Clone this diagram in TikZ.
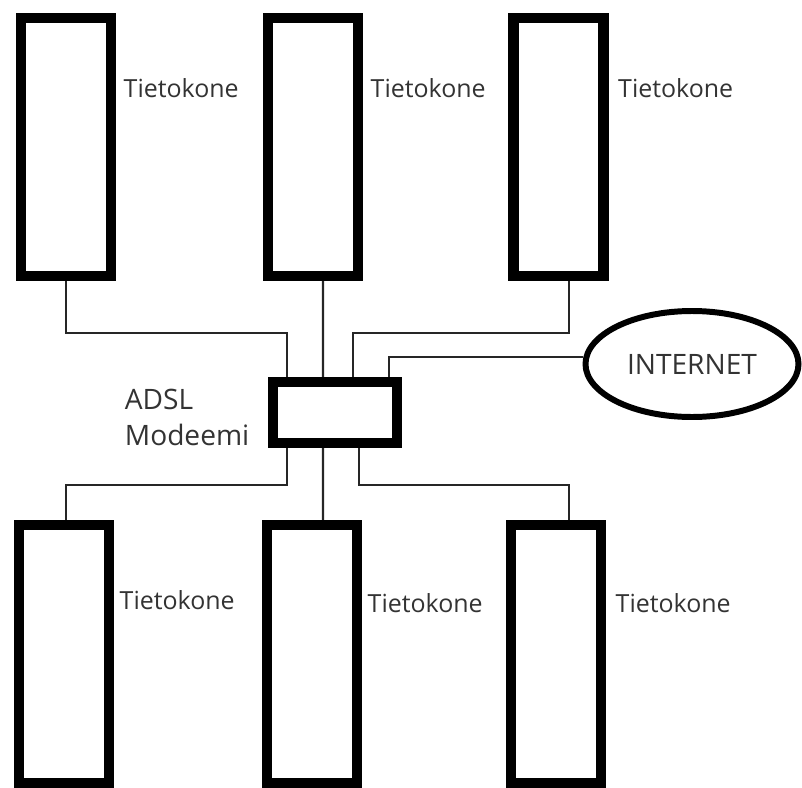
\documentclass[tikz,border=0pt]{standalone}
\usepackage{fontspec}
\setmainfont{Open Sans}
\usetikzlibrary{positioning,shapes.geometric}
\tikzset{
  pc/.style={draw=black, fill=white, line width=2.85pt, minimum width=0.90cm, minimum height=2.58cm, inner sep=0pt},
  mdmbox/.style={draw=black, fill=white, line width=2.85pt, minimum width=1.24cm, minimum height=0.61cm, inner sep=0pt},
  cloud/.style={draw=black, ellipse, line width=1.7pt, minimum width=2.13cm, minimum height=1.06cm, inner sep=0pt, text=black!80, font=\fontsize{8}{10}\selectfont},
  lbl/.style={text=black!80, inner sep=0pt, font=\fontsize{7.1}{8.5}\selectfont},
  tag/.style={text=black!80, inner sep=0pt, align=left, font=\fontsize{8}{10.2}\selectfont},
  cable/.style={draw=black!85, line width=0.6pt}
}
\begin{document}
\begin{tikzpicture}
  \useasboundingbox (0,0) rectangle (8.02,7.87);
  % Computers (top row)
  \node[pc] (tl) at (0.66,6.40) {};
  \node[pc] (tm) at (3.13,6.40) {};
  \node[pc] (tr) at (5.585,6.40) {};
  % Computers (bottom row)
  \node[pc] (bl) at (0.64,1.33) {};
  \node[pc] (bm) at (3.12,1.33) {};
  \node[pc] (br) at (5.56,1.33) {};
  % Labels
  \node[lbl, right=0.07cm of tl.north east, yshift=-0.75cm] (tllbl) {Tietokone};
  \node[lbl, right=0.07cm of tm.north east, yshift=-0.75cm] (tmlbl) {Tietokone};
  \node[lbl, right=0.09cm of tr.north east, yshift=-0.75cm] (trlbl) {Tietokone};
  \node[lbl, right=0.05cm of bl.north east, yshift=-0.80cm] (bllbl) {Tietokone};
  \node[lbl, right=0.05cm of bm.north east, yshift=-0.83cm] (bmlbl) {Tietokone};
  \node[lbl, right=0.09cm of br.north east, yshift=-0.83cm] (brlbl) {Tietokone};
  % Modem (centre)
  \node[mdmbox] (mdm) at (3.35,3.745) {};
  \node[tag, left=0.18cm of mdm, yshift=-0.05cm] (mdmlbl) {ADSL\\Modeemi};
  % Internet (right)
  \node[cloud] (net) at (6.92,4.23) {INTERNET};
  % Cables top row -> modem
  \draw[cable] (tl.south) -- ++(0,-0.52) -| ([xshift=-0.48cm]mdm.north);
  \draw[cable] ([xshift=0.10cm]tm.south) -- ([xshift=-0.12cm]mdm.north);
  \draw[cable] ([xshift=0.105cm]tr.south) -- ++(0,-0.52) -| ([xshift=0.18cm]mdm.north);
  % Cable modem -> internet
  \draw[cable] ([xshift=0.54cm]mdm.north) |- ([yshift=0.07cm]net.west);
  % Cables modem -> bottom row
  \draw[cable] ([xshift=-0.48cm]mdm.south) -- ++(0,-0.37) -| ([xshift=0.02cm]bl.north);
  \draw[cable] ([xshift=-0.12cm]mdm.south) -- ([xshift=0.11cm]bm.north);
  \draw[cable] ([xshift=0.24cm]mdm.south) -- ++(0,-0.37) -| ([xshift=0.13cm]br.north);
\end{tikzpicture}
\end{document}
